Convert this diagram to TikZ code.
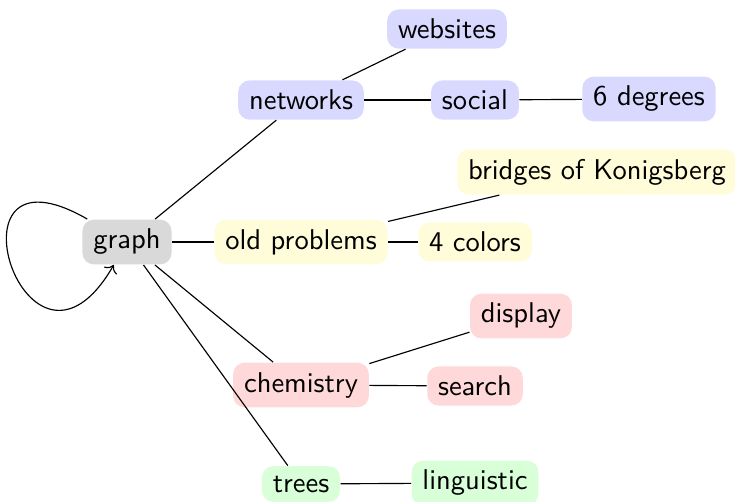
\documentclass[tikz,border=0pt]{standalone}
\usepackage{tikz}
\usetikzlibrary{arrows.meta}

\begin{document}
\begin{tikzpicture}[x=0.35pt,y=-0.35pt,font=\sffamily,
  topic/.style={rounded corners=4pt,inner xsep=3.8pt,inner ysep=3.33pt},
  root/.style={topic,fill=black!15},
  netw/.style={topic,fill=blue!15},
  oldp/.style={topic,fill=yellow!15},
  chem/.style={topic,fill=red!15},
  tree/.style={topic,fill=green!15},
]

%% Canvas
\useasboundingbox (0,0) rectangle (735,501);

%% Column positions
\def\cA{127}
\def\cB{301}
\def\cC{475}

%% ---- root ----
\node[root] (graph) at (\cA,242) {graph};

%% ---- networks ----
\node[netw] (networks) at (\cB,100) {networks};
\node[netw] (websites) at (447,29) {websites};
\node[netw] (social)   at (\cC,100) {social};
\node[netw] (degrees)  at (649,99) {6 degrees};

%% ---- old problems ----
\node[oldp] (oldprob) at (\cB,242) {old problems};
\node[oldp] (bridges) at (597,172) {bridges of Konigsberg};
\node[oldp] (colors)  at (\cC,242) {4 colors};

%% ---- chemistry ----
\node[chem] (chemistry) at (\cB,385) {chemistry};
\node[chem] (display)   at (521,316) {display};
\node[chem] (search)    at (\cC,386) {search};

%% ---- trees ----
\node[tree] (trees)      at (\cB,484) {trees};
\node[tree] (linguistic) at (\cC,483) {linguistic};

%% Connections
\draw (graph) -- (networks);
\draw (graph) -- (oldprob);
\draw (graph) -- (chemistry);
\draw (graph) -- (trees);
\draw (networks) -- (websites);
\draw (networks) -- (social);
\draw (social) -- (degrees);
\draw (oldprob) -- (bridges);
\draw (oldprob) -- (colors);
\draw (chemistry) -- (display);
\draw (chemistry) -- (search);
\draw (trees) -- (linguistic);

%% Self loop
\draw[->] (graph) to[out=150,in=240,looseness=8.4] (graph);

\end{tikzpicture}
\end{document}
